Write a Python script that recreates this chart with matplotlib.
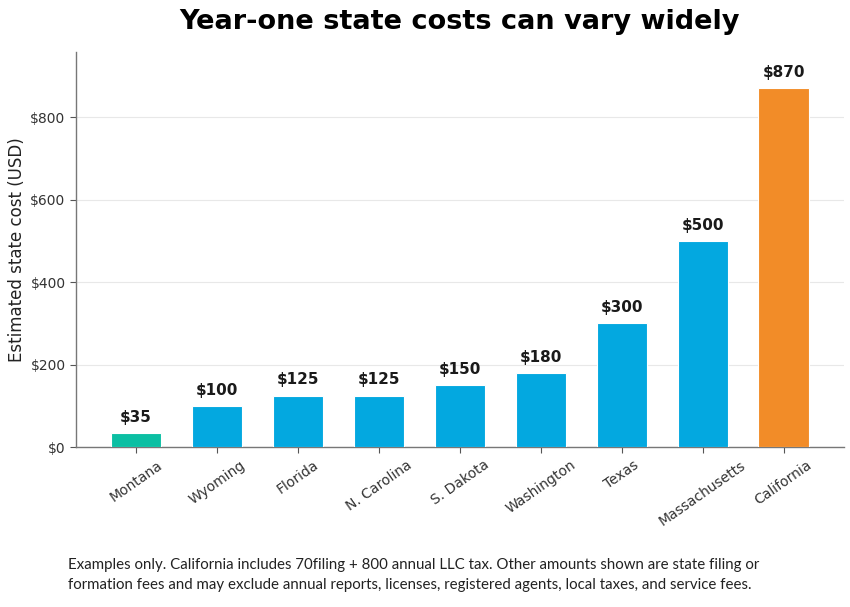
import numpy as np
import matplotlib
matplotlib.use("Agg")
import matplotlib.pyplot as plt

plt.rcParams["font.family"] = ["DejaVu Sans"]

# data
states = ["Montana", "Wyoming", "Florida", "N. Carolina", "S. Dakota",
          "Washington", "Texas", "Massachusetts", "California"]
costs = [35, 100, 125, 125, 150, 180, 300, 500, 870]
bar_colors = ["#0bbfa3"] + ["#03a8e0"] * 7 + ["#f28c28"]
yticks = [0, 200, 400, 600, 800]

title = "Year-one state costs can vary widely"
ylabel = "Estimated state cost (USD)"
footnote = ("Examples only. California includes 70filing + 800 annual LLC tax. "
            "Other amounts shown are state filing or\n"
            "formation fees and may exclude annual reports, licenses, "
            "registered agents, local taxes, and service fees.")

fig = plt.figure(figsize=(8.5, 6.07), dpi=100)
ax = fig.add_axes([0.0894, 0.263, 0.903, 0.651])

x = np.arange(len(states))
ax.bar(x, costs, width=0.62, color=bar_colors, edgecolor="white",
       linewidth=0.8, zorder=3)

for xi, c in zip(x, costs):
    ax.annotate("$" + str(c), (xi, c), xytext=(0, 6), textcoords="offset points",
                ha="center", va="bottom", fontsize=11, fontweight="bold",
                color="#1a1a1a")

ax.set_ylim(0, 870 * 1.1)
ax.set_yticks(yticks)
ax.set_yticklabels(["$" + str(v) for v in yticks])
ax.set_xticks(x)
ax.set_xticklabels(states, rotation=35)
ax.tick_params(axis="both", labelsize=10, colors="#333333", length=4)
ax.tick_params(axis="both", color="#555555")

ax.grid(axis="y", color="#e8e8e8", linewidth=0.8, zorder=0)
ax.set_axisbelow(True)
for side in ("top", "right"):
    ax.spines[side].set_visible(False)
for side in ("left", "bottom"):
    ax.spines[side].set_color("#777777")
    ax.spines[side].set_linewidth(1.0)

ax.set_ylabel(ylabel, fontsize=12, color="#222222", labelpad=3)
fig.suptitle(title, fontsize=19.5, fontweight="bold", y=0.985, x=0.54)

fig.text(0.08, 0.025, footnote, fontsize=10.8, family=["Lato", "DejaVu Sans"],
         color="#222222", ha="left", va="bottom", linespacing=1.5)

fig.savefig("out.png", dpi=100)
